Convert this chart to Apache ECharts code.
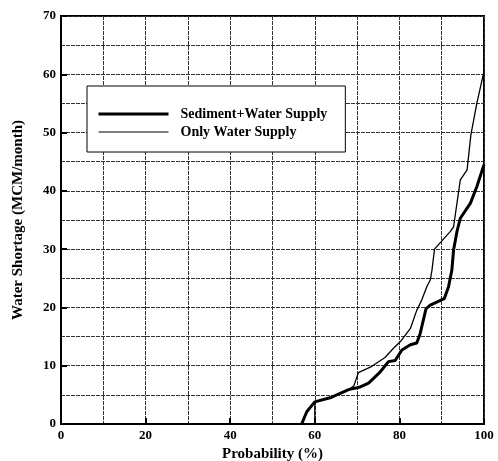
<!DOCTYPE html>
<html>
<head>
<meta charset="utf-8">
<script src="https://cdn.jsdelivr.net/npm/echarts@6/dist/echarts.min.js"></script>
<style>
  html, body { margin: 0; padding: 0; background: #fff; }
  #chart { width: 498px; height: 461px; }
</style>
</head>
<body>
<div id="chart"></div>
<script>
  // series names (legend)
  var seriesNames = ["Sediment+Water Supply", "Only Water Supply"];

  // Sediment + Water Supply (thick line)
  var sedProb = [56.9, 58.1, 60.0, 63.6, 68.0, 70.5, 72.7, 75.3, 77.4, 79.0, 80.6, 82.6, 84.1, 84.9, 86.3, 87.3, 90.6, 91.6, 92.4, 92.8, 93.6, 94.4, 96.8, 98.3, 100];
  var sedShort = [0, 2.1, 3.8, 4.5, 5.9, 6.3, 7.0, 8.8, 10.7, 10.9, 12.7, 13.6, 13.9, 15.5, 19.8, 20.4, 21.5, 23.5, 26.4, 29.8, 33.0, 35.3, 37.9, 40.7, 44.5];

  // Only Water Supply (thin line)
  var waterProb = [60.0, 60.0, 63.6, 68.0, 69.2, 70.3, 73.5, 76.6, 78.6, 80.2, 82.6, 84.1, 85.3, 86.5, 87.3, 87.7, 88.3, 92.0, 92.8, 94.4, 96.0, 96.9, 98.3, 100];
  var waterShort = [0, 3.8, 4.5, 5.9, 6.5, 8.8, 9.9, 11.4, 13.0, 14.1, 16.4, 19.5, 21.3, 23.6, 24.7, 26.4, 30.0, 33.0, 33.8, 41.9, 43.6, 49.6, 55.0, 60.5];

  function pairs(xs, ys) {
    return xs.map(function(x, i) { return [x, ys[i]]; });
  }

  var font = "Liberation Serif";
  var gridLine = { show: true, lineStyle: { color: "#333", width: 1, type: [4, 1] } };

  var chart = echarts.init(document.getElementById("chart"));

  chart.setOption({
    backgroundColor: "#fff",
    animation: false,
    grid: {
      left: 61, right: 14, top: 16, bottom: 37,
      outerBoundsMode: "none",
      containLabel: false,
      show: true, borderColor: "#000", borderWidth: 2, backgroundColor: "transparent"
    },
    legend: {
      orient: "vertical",
      left: 87, top: 86,
      padding: [21, 18, 13, 10],
      itemGap: 4,
      itemWidth: 70, itemHeight: 14,
      backgroundColor: "#fff",
      borderColor: "#000", borderWidth: 1,
      itemStyle: { color: "transparent", borderWidth: 0 },
      textStyle: {
        fontFamily: font, fontWeight: "bold", fontSize: 14, lineHeight: 14,
        color: "#000", padding: [0, 0, 0, 7]
      },
      data: [
        { name: seriesNames[0], lineStyle: { width: 3, color: "#000" } },
        { name: seriesNames[1], lineStyle: { width: 1.2, color: "#000" } }
      ]
    },
    xAxis: {
      type: "value",
      min: 0, max: 100, interval: 20,
      name: "Probability (%)",
      nameLocation: "middle",
      nameGap: 17,
      nameTextStyle: { fontFamily: font, fontWeight: "bold", fontSize: 15, color: "#000" },
      axisLine: { lineStyle: { color: "#000", width: 2 } },
      axisTick: { show: true, inside: true, length: 6, lineStyle: { color: "#000", width: 2 } },
      axisLabel: { margin: 5, fontFamily: font, fontWeight: "bold", fontSize: 13, color: "#000" },
      splitLine: gridLine,
      minorTick: { show: false, splitNumber: 2 },
      minorSplitLine: gridLine
    },
    yAxis: {
      type: "value",
      min: 0, max: 70, interval: 10,
      name: "Water Shortage (MCM/month)",
      nameLocation: "middle",
      nameGap: 35,
      nameTextStyle: { fontFamily: font, fontWeight: "bold", fontSize: 15, color: "#000" },
      axisLine: { show: true, lineStyle: { color: "#000", width: 2 } },
      axisTick: { show: true, inside: true, length: 6, lineStyle: { color: "#000", width: 2 } },
      axisLabel: { margin: 5, fontFamily: font, fontWeight: "bold", fontSize: 13, color: "#000" },
      splitLine: gridLine,
      minorTick: { show: false, splitNumber: 2 },
      minorSplitLine: gridLine
    },
    series: [
      {
        name: seriesNames[0],
        type: "line",
        symbol: "none",
        data: pairs(sedProb, sedShort),
        lineStyle: { color: "#000", width: 3 },
        itemStyle: { color: "#000" },
        z: 3
      },
      {
        name: seriesNames[1],
        type: "line",
        symbol: "none",
        data: pairs(waterProb, waterShort),
        lineStyle: { color: "#000", width: 1.3 },
        itemStyle: { color: "#000" },
        z: 2
      }
    ]
  });
</script>
</body>
</html>
